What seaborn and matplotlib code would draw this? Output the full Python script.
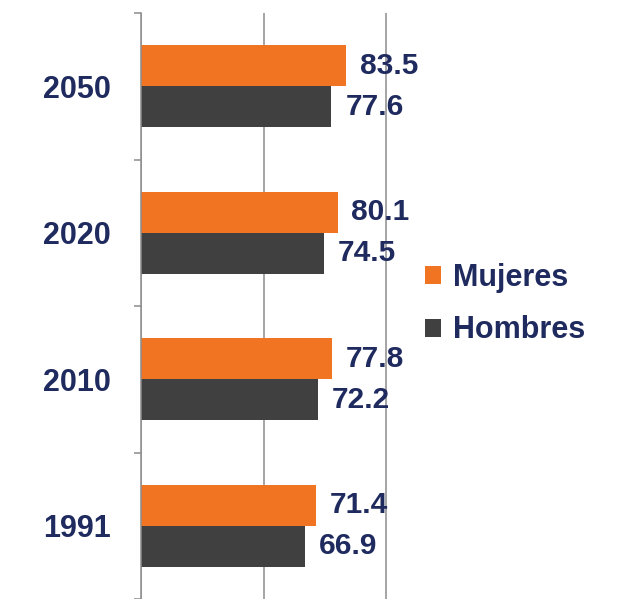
import numpy as np
import pandas as pd
import seaborn as sns
import matplotlib.pyplot as plt
from matplotlib.patches import Patch

years = ['2050', '2020', '2010', '1991']
mujeres = [83.5, 80.1, 77.8, 71.4]
hombres = [77.6, 74.5, 72.2, 66.9]
series = ['Mujeres', 'Hombres']

navy = '#1f2a5e'
colors = {'Mujeres': '#f07422', 'Hombres': '#404040'}

df = pd.DataFrame({
    'year': years * 2,
    'value': mujeres + hombres,
    'sexo': ['Mujeres'] * len(years) + ['Hombres'] * len(years),
})

sns.set_style('white')
plt.rcParams['font.family'] = ['Liberation Sans', 'DejaVu Sans']

fig = plt.figure(figsize=(6.25, 5.99), dpi=100)
ax = fig.add_axes([141 / 625, 0.0, 368 / 625, 1 - 13 / 599])

sns.barplot(data=df, x='value', y='year', hue='sexo', order=years,
            hue_order=series, palette=colors, width=0.56, orient='h',
            saturation=1, edgecolor='none', ax=ax, legend=False)

ax.set_xlim(0, 150)
ax.set_ylim(3.5, -0.5)
ax.set_xticks([0, 50, 100])
ax.xaxis.grid(True, color='#8c8c8c', linewidth=1.1)
ax.set_axisbelow(True)
ax.tick_params(axis='x', length=0, labelbottom=False)
ax.set_xlabel('')
ax.set_ylabel('')

for s in ['top', 'right', 'bottom']:
    ax.spines[s].set_visible(False)
ax.spines['left'].set_color('#8c8c8c')
ax.spines['left'].set_linewidth(1.1)

ax.set_yticks(range(len(years)))
ax.set_yticklabels(years, fontsize=22, fontweight='bold', color=navy)
ax.tick_params(axis='y', which='major', left=True, length=0, pad=21.5)
ax.set_yticks(np.arange(-0.5, len(years)), minor=True)
ax.tick_params(axis='y', which='minor', left=True, length=5, color='#8c8c8c',
               width=1.1)

for cont in ax.containers:
    ax.bar_label(cont, fmt='%.1f', padding=10, fontsize=21.5, fontweight='bold',
                 color=navy)

handles = [Patch(facecolor=colors[s], edgecolor='none') for s in series]
fig.legend(handles, series, loc='center left', bbox_to_anchor=(0.68, 0.4925),
           frameon=False, borderpad=0, borderaxespad=0,
           handlelength=0.52, handleheight=0.52, handletextpad=0.4,
           labelspacing=0.75, prop={'size': 22, 'weight': 'bold'},
           labelcolor=navy)

fig.savefig('out.png', dpi=100)
